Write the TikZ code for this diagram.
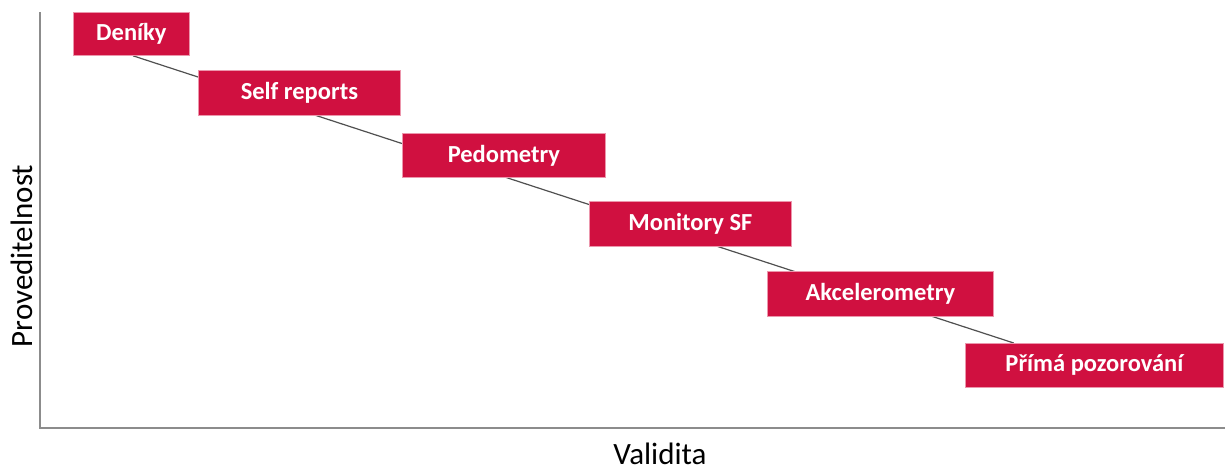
\documentclass[tikz,border=0pt]{standalone}
\usepackage{fontspec}
\setmainfont{Carlito}
\usetikzlibrary{calc,backgrounds}
\definecolor{boxred}{RGB}{208,16,64}
\definecolor{boxedge}{RGB}{236,150,172}
\definecolor{axisgray}{RGB}{140,140,140}
\definecolor{linkgray}{RGB}{80,80,80}
\tikzset{
  stagebox/.style={rectangle, fill=boxred, draw=boxedge, line width=0.8pt,
    text=white, font=\bfseries\fontsize{24.5}{28}\selectfont,
    inner sep=0pt, anchor=north west},
  axisline/.style={draw=axisgray, line width=2pt},
  linkline/.style={draw=linkgray, line width=1.2pt},
  axislabel/.style={font=\fontsize{31}{36}\selectfont, text=black, inner sep=0pt}
}
\begin{document}
\begin{tikzpicture}[x=1pt,y=-1pt]
\useasboundingbox (0,0) rectangle (1225,474);
% axes
\coordinate (ytop) at (40,12);
\coordinate (origin) at (40,428);
\coordinate (xend) at (1225,428);
\draw[axisline] (ytop) -- (origin) -- (xend);
% boxes
\node[stagebox, minimum width=116pt, minimum height=43pt] (deniky) at (73,12) {Deníky};
\node[stagebox, minimum width=202pt, minimum height=45pt] (selfrep) at (198,70) {Self reports};
\node[stagebox, minimum width=203pt, minimum height=44pt] (pedo) at (402,133) {Pedometry};
\node[stagebox, minimum width=202pt, minimum height=45pt] (monit) at (589,201) {Monitory SF};
\node[stagebox, minimum width=226pt, minimum height=45pt] (akcel) at (767,271) {Akcelerometry};
\node[stagebox, minimum width=258pt, minimum height=44pt] (prima) at (965,343) {Přímá pozorování};
% trend connector behind the boxes
\coordinate (tstart) at ($(deniky.south west)+(60,0)$);
\coordinate (tend) at ($(prima.north west)+(48.7,0)$);
\begin{scope}[on background layer]
\draw[linkline] (tstart) -- (tend);
\end{scope}
% axis labels
\node[axislabel, rotate=90] (ylab) at (22,256) {Proveditelnost};
\node[axislabel, anchor=base] (xlab) at (660,464) {Validita};
\end{tikzpicture}
\end{document}
